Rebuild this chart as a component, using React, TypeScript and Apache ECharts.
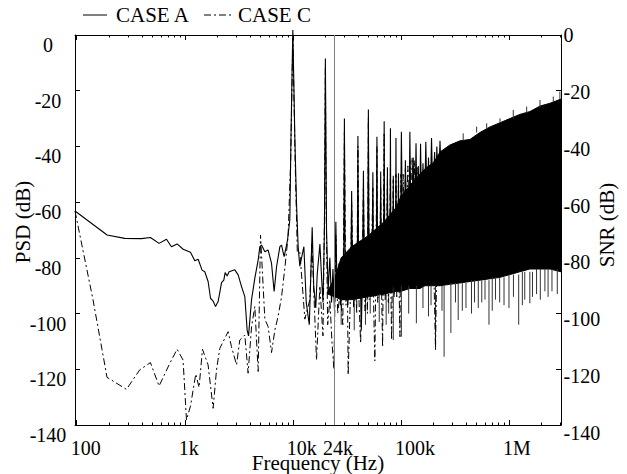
import React, { useEffect, useRef } from 'react';
import * as echarts from 'echarts';

const FONT = '"Liberation Serif", "Times New Roman", Times, serif';

// ---- axes ----
const xMin = 96.4;
const xMax = 3.03e6;
const xLabelValues = [100, 1000, 10000, 100000, 1000000];
const xLabelTexts = ['100', '1k', '10k', '100k', '1M'];
const majorTickValues = [100, 1000, 10000, 100000, 1000000];
const minorMultipliers = [2, 3, 4, 5, 6, 7, 8, 9];
const snrLabelValues = [0, -20, -40, -60, -80, -100, -120, -140];
const snrMin = -137.2;
const markerFreq = 24000;
const markerLabel = '24k';
const legendNames = ['CASE A', 'CASE C'];

// ---- CASE A (solid) ----
const caseA: number[][] = [
  [96.4, -63.2], [191, -71.8], [278, -73], [397, -73.1], [481, -72.7], [578, -74.8], [677, -73.3],
  [753, -76], [849, -75], [966, -76.9], [1129, -78], [1238, -81], [1329, -80.5], [1446, -84.4],
  [1531, -85], [1644, -88.5], [1730, -94.5], [1830, -95.5], [1925, -97.5], [2035, -95.7],
  [2188, -88.9], [2297, -88], [2362, -85.3], [2466, -86.5], [2572, -85], [2904, -84.3],
  [3118, -86.1], [3352, -90.3], [3594, -93.9], [3776, -105.9], [3890, -108], [4148, -95],
  [4449, -87.3], [4775, -80.8], [4946, -76], [5130, -75.4], [5506, -77.8], [5906, -77.2],
  [6350, -82], [6712, -92.1], [7067, -83.2], [7586, -76], [7859, -75.4], [8305, -79.6],
  [8927, -73.6], [9376, -66.4], [9600, -38], [9850, -12], [10000, 1.8], [10150, -12],
  [10450, -38], [10800, -60], [11200, -76],
  [11600, -83], [12650, -76], [13300, -96], [14200, -104], [14700, -85], [15100, -69], [15600, -90],
  [16300, -98], [16800, -86], [17800, -75], [18500, -88], [19000, -96], [19600, -70], [20000, -8.4],
  [20500, -70], [21200, -92], [22000, -80], [22800, -96], [23500, -84], [24300, -99], [25000, -67],
  [25700, -94], [26700, -82], [27600, -97], [28500, -84], [29500, -90], [30000, -30], [30500, -88],
  [31400, -80], [32300, -97], [33000, -86], [34300, -92], [35000, -56], [35700, -90], [37000, -79],
  [38500, -95], [39500, -86], [40000, -36.3], [40600, -88], [41700, -77], [43000, -106], [44200, -84],
  [45000, -48.7], [45700, -86], [46800, -76], [48000, -94], [49200, -82], [50000, -26.7], [50700, -85],
  [52000, -74], [53200, -93], [54300, -80], [55000, -49.3], [55800, -84], [57000, -72], [58200, -92],
  [59300, -78], [60000, -36.5], [60800, -83], [62000, -72], [63200, -91], [64300, -76], [65000, -49],
  [65800, -82], [67000, -70], [68200, -90], [69300, -75], [70000, -31], [70800, -81], [72000, -69],
  [73200, -90], [74300, -74], [75000, -47.5], [75800, -80], [77000, -68], [78200, -89], [79300, -73],
  [80000, -33.5], [80800, -80], [82000, -67], [83200, -89], [84300, -72], [85000, -50.5], [85800, -79],
  [87000, -66], [88200, -88], [89300, -71], [90000, -37], [90800, -78], [92000, -65], [93200, -88],
  [94300, -70], [95000, -49.6], [95800, -77], [97000, -64], [98200, -88], [99300, -70], [101000, -34.7],
  [103500, -72], [106000, -58], [108000, -74], [110000, -45], [113000, -73], [116000, -60], [118500, -74],
  [121000, -34.7], [124000, -72], [127000, -58], [130000, -44], [133000, -72], [135500, -60],
  [138000, -38.9], [141500, -70], [145000, -47], [148500, -70], [152000, -39], [156000, -68],
  [160000, -46], [165000, -66], [170000, -38.3], [175000, -64], [180000, -44], [186000, -62],
  [192000, -37], [198000, -60], [205000, -42], [210000, -58], [215000, -40], [222000, -56],
  [230000, -38], [240000, -60],
];

// ---- CASE C (dash-dot) ----
const caseC: number[][] = [
  [96.4, -63.2], [141.6, -95.1], [190.8, -122.9], [288.5, -127.2], [383, -120.2], [481, -117.6],
  [578, -126], [726, -117.9], [849, -112.8], [964, -116.7], [1037, -138.2], [1129, -133.2],
  [1264, -121.7], [1356, -126.5], [1458, -112.8], [1643, -118.4], [1829, -134], [1966, -120.2],
  [2108, -112.5], [2518, -106.5], [2704, -111.9], [3013, -118.4], [3228, -109.5], [3594, -107.7],
  [3855, -121.4], [4148, -104.7], [4449, -97.5], [4775, -120.8], [5021, -71.8], [5506, -102],
  [5906, -104.7], [6350, -114], [6812, -106], [7306, -101], [7859, -94], [8414, -84], [9032, -72.4],
  [9550, -45], [10000, -1], [10500, -45], [11000, -78], [11610, -78], [12920, -102], [14380, -95],
  [15000, -75], [16560, -116.7], [17780, -90], [19000, -108], [19700, -60], [20000, -12], [20300, -60],
  [21000, -104], [22000, -95], [23000, -110], [24000, -120], [25000, -72], [26000, -100], [27500, -92],
  [29000, -104], [30000, -35], [31000, -97], [32000, -90], [32500, -122], [34000, -95], [35000, -60],
  [36500, -98], [38000, -88], [39000, -100], [40000, -40], [41000, -96], [42400, -110.7], [43500, -90],
  [45000, -55], [46500, -99], [48000, -88], [49000, -100], [50000, -30], [51000, -95], [53000, -86],
  [55000, -55], [56000, -98], [57400, -117], [58500, -88], [60000, -40], [61000, -96], [63500, -86],
  [65000, -55], [66500, -96], [67700, -112], [68500, -86], [70000, -35], [71500, -95], [73000, -84],
  [75000, -52], [76500, -96], [78000, -84], [80000, -48], [81000, -95], [82000, -109.5], [83500, -84],
  [85000, -52], [86500, -94], [88000, -80], [90000, -50], [91500, -94], [93000, -80], [95000, -50],
  [96500, -94], [98000, -108.3], [100000, -50], [103000, -66], [105000, -50], [108000, -68],
  [110000, -48], [113000, -66], [116000, -47], [119000, -68], [121000, -45], [124000, -64],
  [127000, -44], [130000, -66], [133000, -45], [137000, -66], [141000, -47], [145000, -68],
  [150000, -50], [155000, -70], [160000, -52], [166000, -72], [172000, -55], [180000, -74],
  [190000, -58], [200000, -78], [209000, -113], [215000, -80],
];

// ---- dense harmonic region: envelope ----
const bandFreq = [21000, 24500, 28000, 35000, 50000, 70000, 90000, 100000, 121000, 150000, 167000, 198000, 215000,
  230000, 284000, 352000, 435000, 538000, 667000, 826000, 1020000, 1260000, 1560000, 1940000, 2400000, 3030000];
const bandUpper = [-92, -87, -80, -76, -72, -67, -62, -58, -54, -50, -48, -46, -44,
  -42, -39.5, -38, -37.5, -35, -33, -31.5, -30, -28.5, -27.5, -25.5, -24.5, -23];
const bandLower = [-93, -94, -95, -95, -94, -93, -92, -92, -91, -91, -90, -90, -90,
  -90, -89.5, -89, -88.5, -88, -87.5, -87, -86, -85, -84, -84, -84, -85];

// ---- isolated spikes sticking out of the dense region ----
const spikeFreq = [
  28000, 37000, 47000, 52000, 63000, 73000, 77000,
  85000, 101000, 118000, 139000, 160000, 180000, 190000, 209000, 240000, 251000, 290000, 320000, 339000,
  370000, 400000, 450000, 480000, 520000, 560000, 600000, 653000, 700000, 750000, 820000, 900000,
  1000000, 1100000, 1230000, 1330000, 1400000, 1560000, 1650000, 1800000, 1950000, 2150000, 2300000, 2500000, 2800000,
  377000, 502000, 622000, 826000, 1096000, 1458000, 1936000, 2570000, 2960000,
];
const spikeFrom = [
  -95, -95, -94, -94, -93, -93, -93,
  -90, -90, -90, -90, -90, -90, -90, -90, -90, -90, -89, -89, -89,
  -89, -89, -88, -88, -88, -88, -88, -88, -87, -87, -87, -87,
  -86, -86, -86, -85, -85, -85, -85, -84, -84, -84, -84, -84, -84,
  -38, -35, -33.5, -31.5, -30, -28, -26, -24, -23,
];
const spikeTo = [
  -104, -106, -104, -100, -103, -104, -100,
  -109.5, -108.3, -100, -103.5, -98, -101, -97, -113, -99, -115.5, -107, -96, -102.3,
  -99, -98, -100, -96, -98, -96, -95, -104, -99, -95, -96, -97,
  -98, -94, -104, -97, -95, -96.3, -94, -93, -95, -92, -94, -92, -93,
  -35.3, -32.9, -31.7, -29.9, -26.9, -25.7, -23.3, -22.1, -20.3,
];

export default function App() {
  const ref = useRef<HTMLDivElement>(null);

  useEffect(() => {
    if (!ref.current) return;
    const chart = echarts.init(ref.current, null, { renderer: 'svg' });
    const minorTickValues = majorTickValues.flatMap((d) => minorMultipliers.map((m) => d * m));

    const xAx = (position: string, values: number[], len: number, showLine: boolean) => ({
      type: 'log',
      min: xMin,
      max: xMax,
      position,
      gridIndex: 0,
      axisLine: { show: showLine, onZero: false, lineStyle: { color: '#000', width: 1 } },
      axisTick: { show: true, inside: true, length: len, customValues: values, lineStyle: { color: '#000', width: 1 } },
      axisLabel: { show: false },
      splitLine: { show: false },
    });

    const yAx = (position: string, showLabel: boolean) => ({
      type: 'value',
      min: -140,
      max: 0,
      interval: 20,
      position,
      axisLine: { show: true, onZero: false, lineStyle: { color: '#000', width: 1 } },
      axisTick: { show: true, inside: true, length: 5, lineStyle: { color: '#000' } },
      axisLabel: {
        show: showLabel,
        fontSize: 20,
        fontFamily: FONT,
        color: '#000',
        align: 'center',
        verticalAlign: 'top',
        margin: 27,
      },
      splitLine: { show: false },
    });

    const option: any = {
      animation: false,
      backgroundColor: '#fff',
      textStyle: { fontFamily: FONT },
      grid: { left: 75, right: 66, top: 35, bottom: 49, containLabel: false },
      xAxis: [
        xAx('bottom', majorTickValues, 5, true),
        xAx('bottom', minorTickValues, 2.5, false),
        xAx('top', majorTickValues, 5, true),
        xAx('top', minorTickValues, 2.5, false),
      ],
      yAxis: [
        yAx('left', true),
        yAx('right', false),
        { type: 'value', min: snrMin, max: 0, position: 'right', show: false },
      ],
      series: [
        {
          type: 'custom',
          name: 'band',
          xAxisIndex: 0,
          yAxisIndex: 0,
          z: 1,
          silent: true,
          data: [[bandFreq[0], bandUpper[0]]],
          renderItem: (_p: any, api: any) => {
            const pts: number[][] = [];
            bandFreq.forEach((f, i) => pts.push(api.coord([f, bandUpper[i]])));
            for (let i = bandFreq.length - 1; i >= 0; i--) pts.push(api.coord([bandFreq[i], bandLower[i]]));
            return { type: 'polygon', shape: { points: pts }, style: { fill: '#000', stroke: '#000', lineWidth: 1 } };
          },
        },
        {
          type: 'custom',
          name: 'spikes',
          xAxisIndex: 0,
          yAxisIndex: 0,
          z: 1,
          silent: true,
          data: spikeFreq.map((f, i) => [f, spikeFrom[i], spikeTo[i]]),
          encode: { x: 0, y: [1, 2] },
          renderItem: (_p: any, api: any) => {
            const p1 = api.coord([api.value(0), api.value(1)]);
            const p2 = api.coord([api.value(0), api.value(2)]);
            return {
              type: 'line',
              shape: { x1: p1[0], y1: p1[1], x2: p2[0], y2: p2[1] },
              style: { stroke: '#333', lineWidth: 1 },
            };
          },
        },
        {
          name: legendNames[1],
          type: 'line',
          xAxisIndex: 0,
          yAxisIndex: 0,
          data: caseC,
          symbol: 'none',
          showSymbol: false,
          clip: false,
          z: 2,
          lineStyle: { color: '#000', width: 1, type: [7, 3, 2, 3] },
          itemStyle: { color: '#000' },
        },
        {
          name: legendNames[0],
          type: 'line',
          xAxisIndex: 0,
          yAxisIndex: 0,
          data: caseA,
          symbol: 'none',
          showSymbol: false,
          clip: false,
          z: 3,
          lineStyle: { color: '#000', width: 1.1 },
          itemStyle: { color: '#000' },
          markLine: {
            silent: true,
            symbol: ['none', 'none'],
            label: { show: false },
            lineStyle: { color: '#808080', width: 1, type: 'solid' },
            data: [{ xAxis: markerFreq }],
          },
        },
      ],
    };
    chart.setOption(option);

    const gx = (v: number) => chart.convertToPixel({ xAxisIndex: 0 }, v) as number;
    const gy = (v: number) => chart.convertToPixel({ yAxisIndex: 0 }, v) as number;
    const gs = (v: number) => chart.convertToPixel({ yAxisIndex: 2 }, v) as number;
    const xL = gx(xMin);
    const xR = gx(xMax);
    const yB = gy(-140);
    const yT = gy(0);
    const txt = (text: string, x: number, y: number, size: number, align: string, rotation = 0) => ({
      type: 'text',
      x,
      y,
      rotation,
      silent: true,
      style: { text, fontSize: size, fontFamily: FONT, fill: '#000', align, verticalAlign: 'middle', lineHeight: 15 },
    });
    const legendY = yT - 20;
    const graphic: any[] = [
      ...xLabelValues.map((v, i) => txt(xLabelTexts[i], gx(v) - 6, yB + 22.5, 20, 'left')),
      txt(markerLabel, gx(markerFreq) - 11, yB + 22.5, 20, 'left'),
      ...snrLabelValues.map((v) => txt(String(v), xR + 2.5, gs(v), 20, 'left')),
      txt('Frequency (Hz)', (xL + xR) / 2, yB + 38, 21, 'center'),
      txt('PSD (dB)', xL - 52, (yT + yB) / 2 - 8, 21, 'center', Math.PI / 2),
      txt('SNR (dB)', xR + 46, (yT + yB) / 2 - 5, 21, 'center', Math.PI / 2),
      // legend
      { type: 'line', silent: true, shape: { x1: xL + 8, y1: legendY, x2: xL + 32, y2: legendY }, style: { stroke: '#000', lineWidth: 1 } },
      txt(legendNames[0], xL + 41, legendY, 21, 'left'),
      { type: 'line', silent: true, shape: { x1: xL + 129, y1: legendY, x2: xL + 156, y2: legendY }, style: { stroke: '#000', lineWidth: 1, lineDash: [7, 3, 2, 3] } },
      txt(legendNames[1], xL + 163, legendY, 21, 'left'),
    ];
    chart.setOption({ graphic });

    return () => chart.dispose();
  }, []);

  return (
    <div
      ref={ref}
      style={{ position: 'fixed', left: 0, top: 0, width: 627, height: 474, background: '#fff' }}
    />
  );
}
